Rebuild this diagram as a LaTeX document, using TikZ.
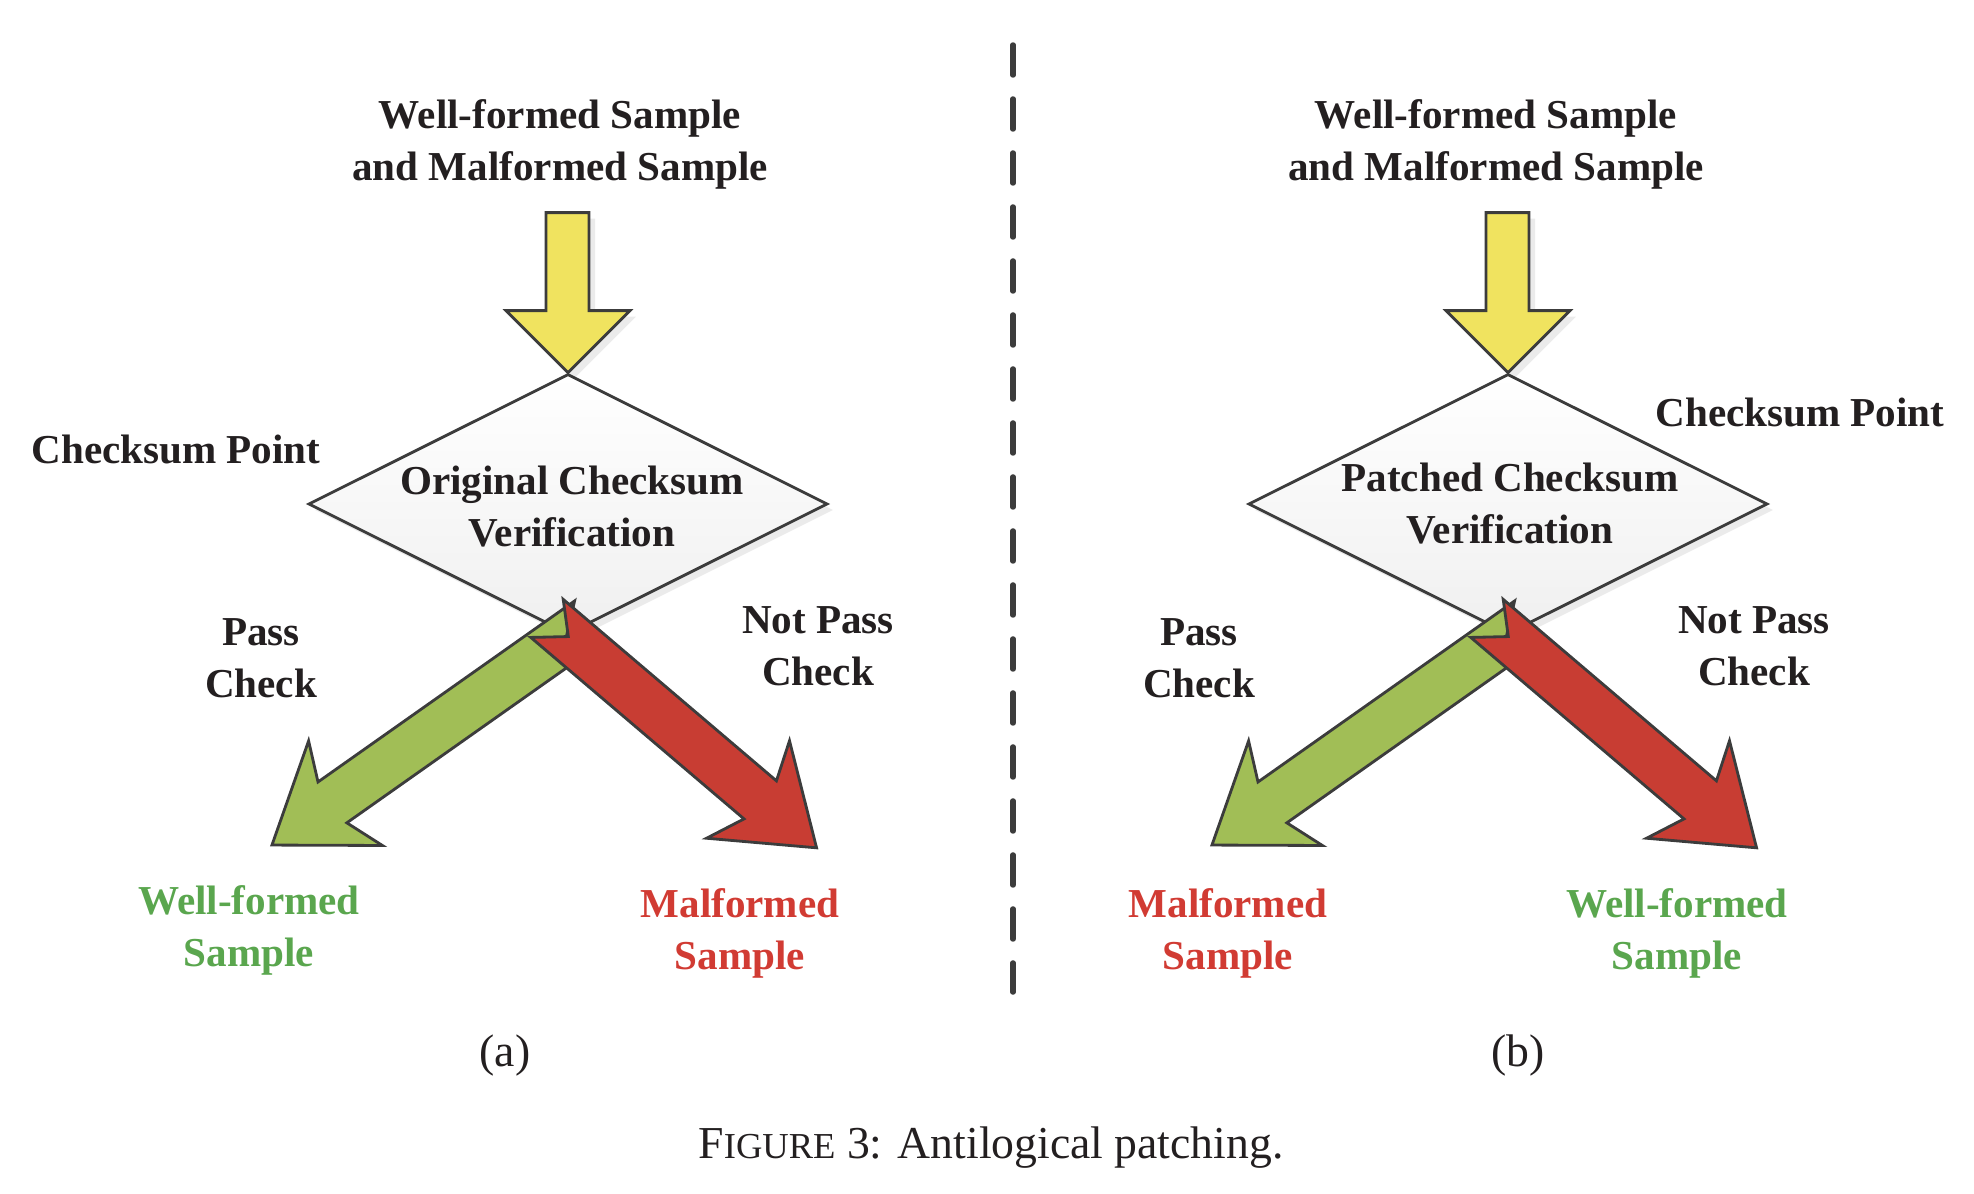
\documentclass[tikz,border=0pt]{standalone}
\usepackage{fontspec}
\setmainfont{Liberation Serif}
\usepackage{tikz}
\usetikzlibrary{shapes.geometric, positioning, shadows}

\definecolor{boxline}{HTML}{3C3C3C}
\definecolor{inkdark}{HTML}{231F20}
\definecolor{feedfill}{HTML}{F0E35F}
\definecolor{passfill}{HTML}{A1BE56}
\definecolor{failfill}{HTML}{C83D33}
\definecolor{passtext}{HTML}{5AA64E}
\definecolor{failtext}{HTML}{D13B33}

\tikzset{
    outline/.style = {draw=boxline, line width=0.8pt, line join=miter},
    softshadow/.style = {drop shadow={shadow xshift=0.6mm, shadow yshift=-0.6mm, fill=black, opacity=0.08}},
    lbl/.style = {font=\fontsize{11.7}{14.8}\selectfont\bfseries, text=inkdark, align=center},
    passlbl/.style = {lbl, text=passtext},
    faillbl/.style = {lbl, text=failtext},
    plain/.style = {font=\fontsize{13}{16}\selectfont, text=inkdark},
    checkbox/.style = {diamond, aspect=2, minimum width=51.9mm, minimum height=26mm, inner sep=0pt,
        outline, top color=white, bottom color=black!6, softshadow},
    % fat arrow with notched tail, #1 = shaft length
    pics/fatarrow/.style = {code={
        \draw[pic actions] (0,-25) -- (28,0) -- (0,25) -- (#1,25) -- (#1-16,64) -- (#1+74,0)
            -- (#1-16,-64) -- (#1,-25) -- cycle;
    }},
}

\newcommand{\feedarrow}[1]{%
    \draw[outline, fill=feedfill, softshadow] (#1.north) -- ++(62,-62) -- ++(-41,0) -- ++(0,-98)
        -- ++(-43,0) -- ++(0,98) -- ++(-40,0) -- cycle;
}

\begin{document}
\begin{tikzpicture}[x=0.1mm, y=-0.1mm]
    \useasboundingbox (0,0) rectangle (1974,1194);

    % (a) original check
    \node (title-a) [lbl] at (560,144) {Well-formed Sample\\and Malformed Sample};
    \node (chk-a) [checkbox] at (568,504) {};
    \feedarrow{chk-a}
    \node (txt-a) [lbl] at ([shift={(4,3)}]chk-a.center) {Original Checksum\\Verification};
    \node (point-a) [lbl] at (176,449) {Checksum Point};
    \pic [outline, fill=passfill, softshadow, rotate=215.2] at ([shift={(21,-14)}]chk-a.south) {fatarrow=314};
    \pic [outline, fill=failfill, softshadow, rotate=-40.4] at ([shift={(-21,-17)}]chk-a.south) {fatarrow=280};
    \node (pass-a) [lbl] at (261,658) {Pass\\Check};
    \node (fail-a) [lbl] at (818,646) {Not Pass\\Check};
    \node (good-a) [passlbl] at (249,930) {Well-formed\\Sample};
    \node (bad-a) [faillbl] at (740,933) {Malformed\\Sample};
    \node (tag-a) [plain] at (505,1056) {(a)};

    % divider
    \coordinate (cut-top) at (1013,45);
    \coordinate (cut-bot) at (1013,992);
    \draw[boxline, line width=0.55mm, line cap=round, dash pattern=on 3mm off 2.4mm] (cut-top) -- (cut-bot);

    % (b) patched check
    \node (title-b) [lbl] at (1496,144) {Well-formed Sample\\and Malformed Sample};
    \node (chk-b) [checkbox] at (1508,504) {};
    \feedarrow{chk-b}
    \node (txt-b) [lbl] at ([shift={(2,0)}]chk-b.center) {Patched Checksum\\Verification};
    \node (point-b) [lbl] at (1800,412) {Checksum Point};
    \pic [outline, fill=passfill, softshadow, rotate=215.2] at ([shift={(21,-14)}]chk-b.south) {fatarrow=314};
    \pic [outline, fill=failfill, softshadow, rotate=-40.4] at ([shift={(-21,-17)}]chk-b.south) {fatarrow=280};
    \node (pass-b) [lbl] at (1199,658) {Pass\\Check};
    \node (fail-b) [lbl] at (1754,646) {Not Pass\\Check};
    \node (bad-b) [faillbl] at (1228,933) {Malformed\\Sample};
    \node (good-b) [passlbl] at (1677,933) {Well-formed\\Sample};
    \node (tag-b) [plain] at (1518,1056) {(b)};

    \node (caption) [plain] at (991,1148) {F{\fontsize{10.4}{16}\selectfont IGURE} 3: Antilogical patching.};
\end{tikzpicture}
\end{document}
